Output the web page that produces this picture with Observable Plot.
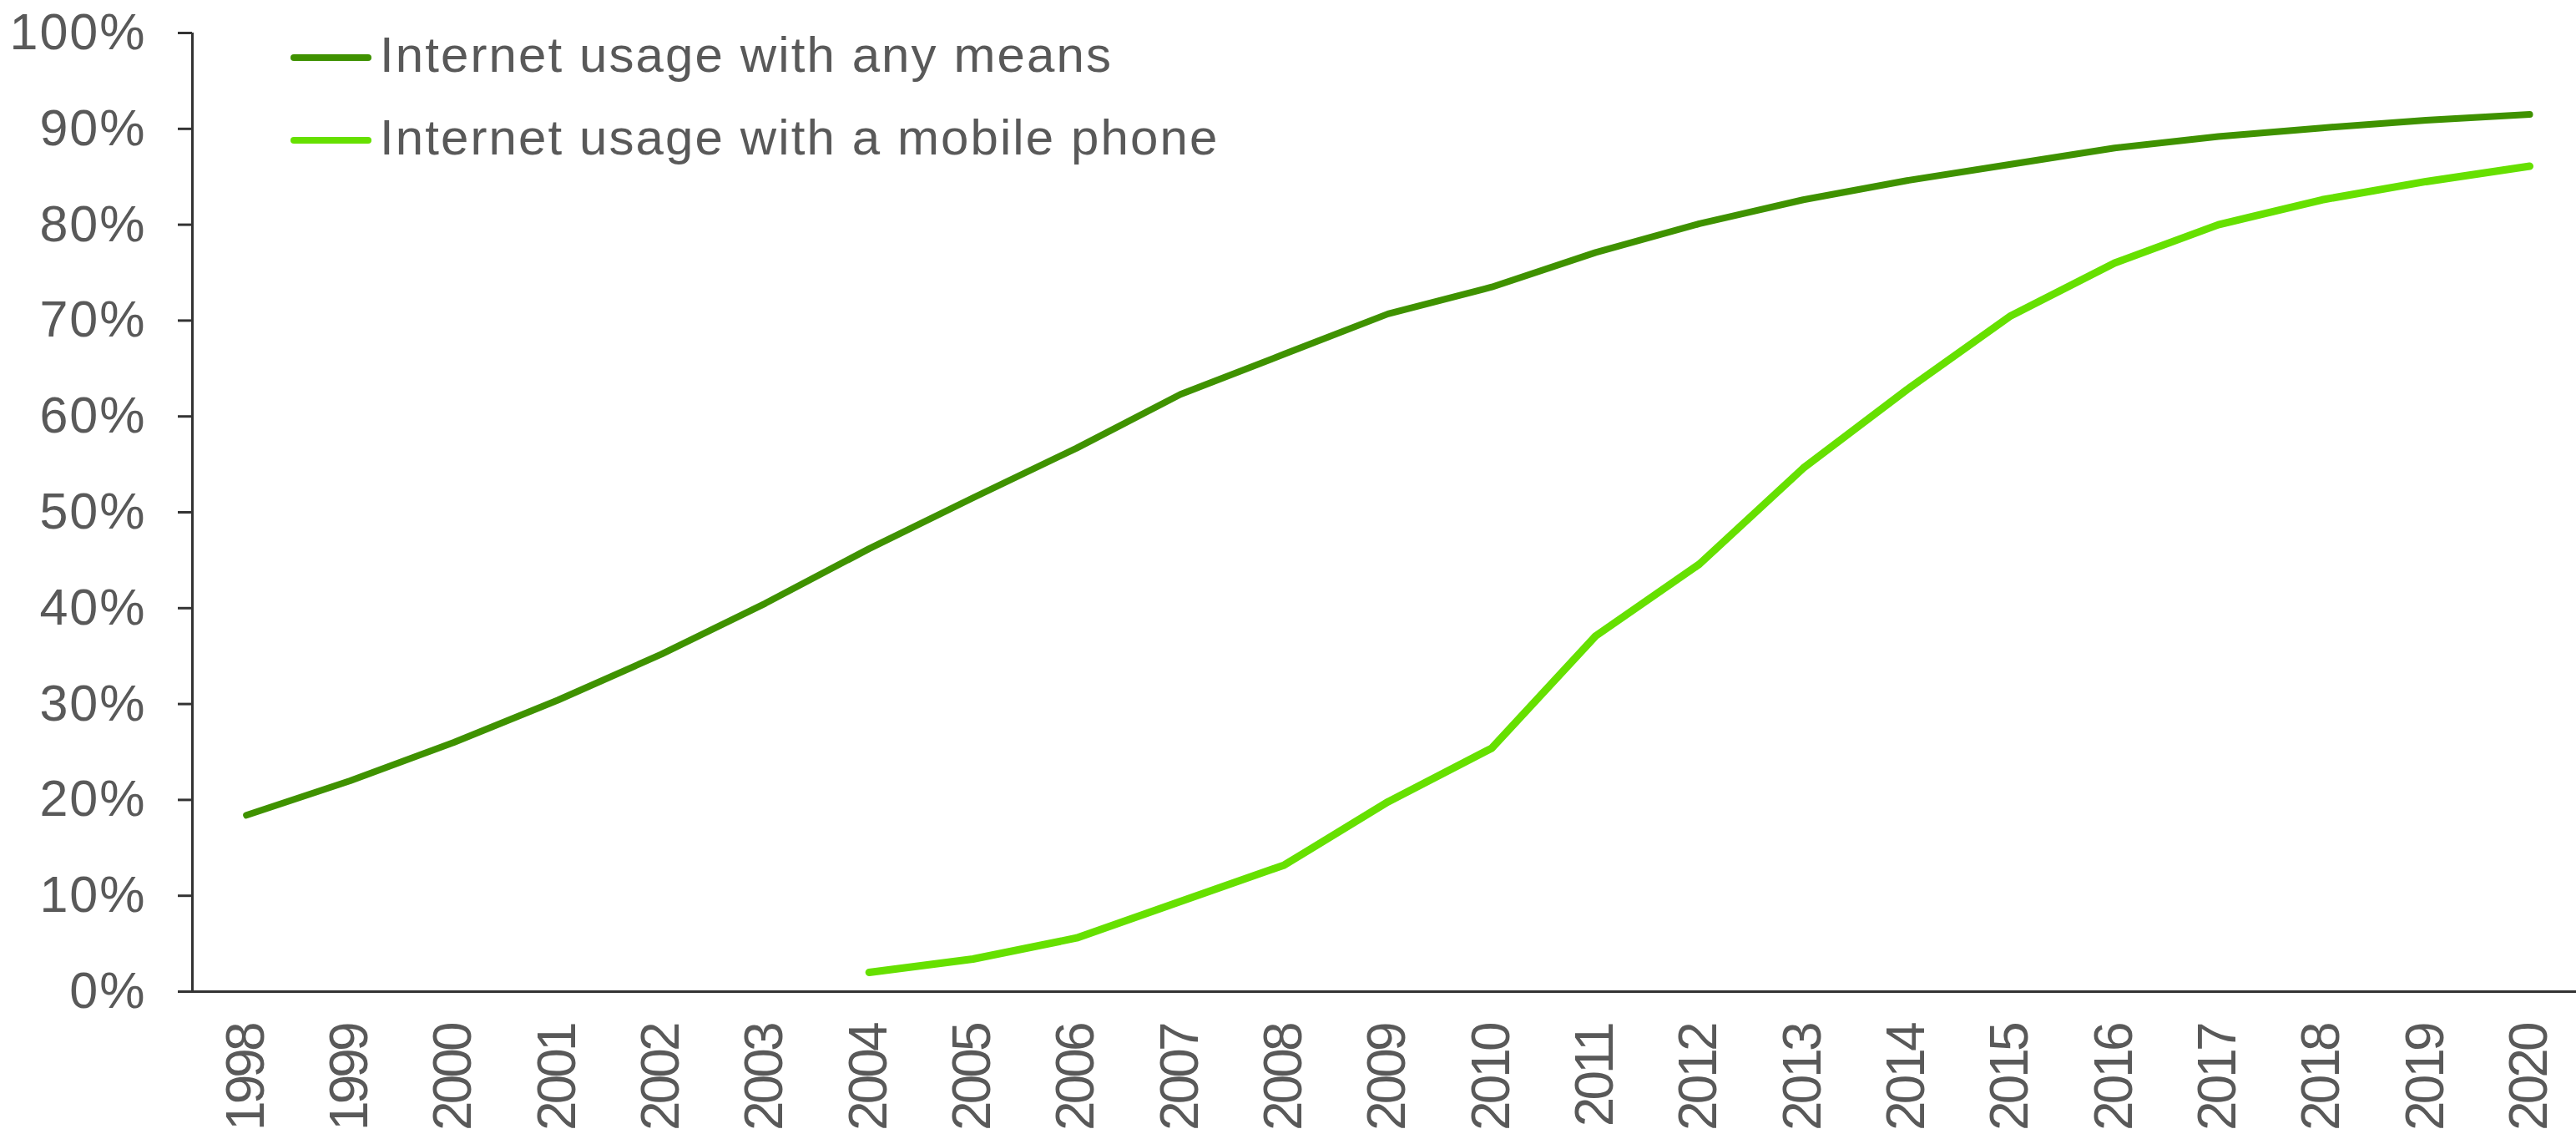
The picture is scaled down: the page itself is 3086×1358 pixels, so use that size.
<!DOCTYPE html>
<html>
<head>
<meta charset="utf-8">
<script src="https://cdn.jsdelivr.net/npm/d3@7"></script>
<script src="https://cdn.jsdelivr.net/npm/@observablehq/plot@0.6"></script>
<style>
  html, body { margin: 0; padding: 0; background: #fff; }
  #wrap { position: relative; width: 3086px; height: 1358px; font-family: "Liberation Sans", Arial, sans-serif; }
  #legend { position: absolute; left: 348px; top: 0; }
  .row { position: absolute; left: 0; display: flex; align-items: center; white-space: nowrap; }
  .sw { width: 97px; height: 8px; border-radius: 4px; margin-right: 10px; }
  .lab { font-size: 60px; letter-spacing: 2.1px; color: #595959; line-height: 1; position: relative; top: -3px; }
  .ylab text { letter-spacing: 2px; }
  .xlab text { letter-spacing: -4px; }
</style>
</head>
<body>
<div id="wrap">
  <div id="chart"></div>
  <div id="legend"></div>
</div>
<script>
const years = d3.range(1998, 2021);
const anyMeans = [18.4, 22.0, 26.0, 30.4, 35.2, 40.5, 46.2, 51.5, 56.7, 62.3, 66.5, 70.7, 73.5, 77.1, 80.1, 82.6, 84.6, 86.3, 88.0, 89.2, 90.1, 90.9, 91.5];
const mobileYears = d3.range(2004, 2021);
const mobilePhone = [2.0, 3.4, 5.6, 9.4, 13.2, 19.8, 25.4, 37.1, 44.6, 54.6, 62.8, 70.5, 76.0, 80.0, 82.6, 84.5, 86.1];
const seriesNames = ["Internet usage with any means", "Internet usage with a mobile phone"];
const seriesColors = ["#3f9200", "#66e000"];
const yTicks = d3.range(0, 101, 10);

const anyData = years.map((year, i) => ({year, value: anyMeans[i]}));
const mobData = mobileYears.map((year, i) => ({year, value: mobilePhone[i]}));
const xDomain = [1997.48, 2020.45];

const chart = Plot.plot({
  width: 3086,
  height: 1358,
  marginLeft: 230,
  marginRight: 0,
  marginTop: 39,
  marginBottom: 171,
  style: {fontFamily: "'Liberation Sans', Arial, sans-serif", fontSize: "58px", color: "#595959", background: "#fff"},
  x: {domain: xDomain},
  y: {domain: [0, 100]},
  marks: [
    Plot.axisY({ticks: yTicks, tickSize: 17, tickPadding: 38, tickFormat: d => d + "%", label: null, stroke: "#333", strokeWidth: 3, fill: "#595959", fontSize: 61, className: "ylab"}),
    Plot.axisX({ticks: years, tickSize: 0, tickPadding: 40, tickRotate: -90, tickFormat: d => String(d), label: null, fill: "#595959", fontSize: 64, className: "xlab"}),
    Plot.ruleX([xDomain[0]], {y1: 0, y2: 100, stroke: "#333", strokeWidth: 3}),
    Plot.ruleY([0], {stroke: "#333", strokeWidth: 3}),
    Plot.line(anyData, {x: "year", y: "value", stroke: seriesColors[0], strokeWidth: 8, strokeLinecap: "round", strokeLinejoin: "round"}),
    Plot.line(mobData, {x: "year", y: "value", stroke: seriesColors[1], strokeWidth: 9, strokeLinecap: "round", strokeLinejoin: "round"})
  ]
});
document.getElementById("chart").appendChild(chart);

const legend = document.getElementById("legend");
const rowTops = [69, 168];
seriesNames.forEach((name, i) => {
  const row = document.createElement("div");
  row.className = "row";
  row.style.top = (rowTops[i] - 29) + "px";
  row.style.height = "58px";
  const sw = document.createElement("div");
  sw.className = "sw";
  sw.style.background = seriesColors[i];
  const lab = document.createElement("span");
  lab.className = "lab";
  lab.textContent = name;
  row.appendChild(sw);
  row.appendChild(lab);
  legend.appendChild(row);
});
</script>
</body>
</html>
